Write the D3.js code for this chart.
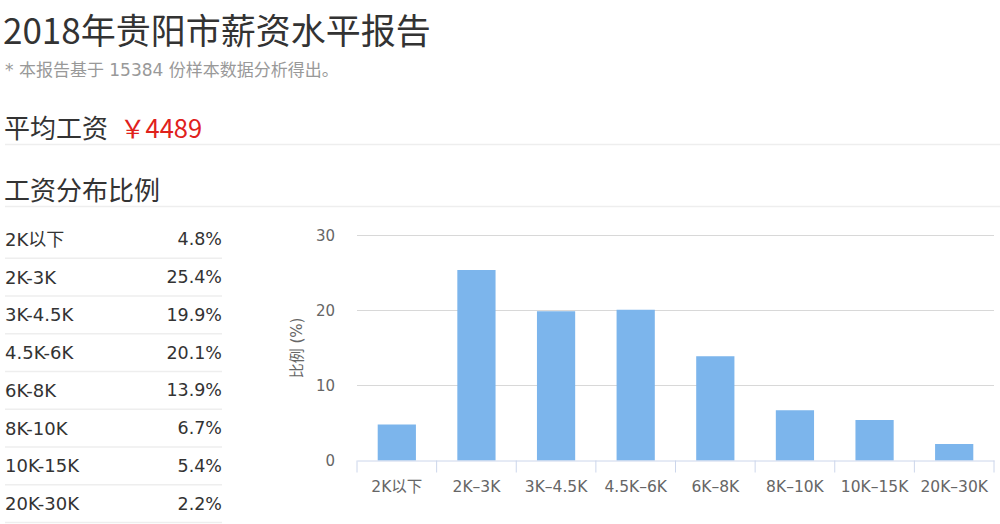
<!DOCTYPE html>
<html>
<head>
<meta charset="utf-8">
<script src="https://cdn.jsdelivr.net/npm/d3@7"></script>
<style>
  html, body { margin: 0; padding: 0; background: #fff; }
  svg { display: block; font-family: "Noto Sans CJK SC", "Noto Sans", sans-serif; }
</style>
</head>
<body>
<svg id="chart"></svg>
<script>
// 薪资区间与比例(%)
const categories = ["2K以下", "2K-3K", "3K-4.5K", "4.5K-6K", "6K-8K", "8K-10K", "10K-15K", "20K-30K"];
const ratios = [4.8, 25.4, 19.9, 20.1, 13.9, 6.7, 5.4, 2.2];
const yTicks = [0, 10, 20, 30];

const title = "2018年贵阳市薪资水平报告";
const note = "* 本报告基于 15384 份样本数据分析得出。";
const avgLabel = "平均工资";
const avgValue = "￥4489";
const distTitle = "工资分布比例";
const yTitle = "比例 (%)";

const W = 1000, H = 524;
const latinFont = "\"DejaVu Sans\", \"Noto Sans CJK SC\", sans-serif";
const svg = d3.select("#chart").attr("width", W).attr("height", H);

// header
svg.append("text").attr("x", 3).attr("y", 28).attr("dominant-baseline", "central")
    .attr("font-size", 35).attr("fill", "#333").text(title);
svg.append("text").attr("x", 5).attr("y", 69.5).attr("dominant-baseline", "central")
    .attr("font-size", 17).attr("fill", "#999").attr("font-family", latinFont).text(note);

svg.append("text").attr("x", 4).attr("y", 126).attr("dominant-baseline", "central")
    .attr("font-size", 26).attr("fill", "#333").text(avgLabel);
svg.append("text").attr("x", 120).attr("y", 126).attr("dominant-baseline", "central")
    .attr("font-size", 25.5).attr("fill", "#e0211c").text(avgValue);
svg.append("line").attr("x1", 5).attr("x2", W).attr("y1", 144.5).attr("y2", 144.5)
    .attr("stroke", "#eee").attr("stroke-width", 1.5);

svg.append("text").attr("x", 4).attr("y", 188).attr("dominant-baseline", "central")
    .attr("font-size", 26).attr("fill", "#333").text(distTitle);
svg.append("line").attr("x1", 5).attr("x2", W).attr("y1", 206.5).attr("y2", 206.5)
    .attr("stroke", "#eee").attr("stroke-width", 1.5);

// left table
const rowY = d3.scaleBand().domain(categories).range([220.5, 522.5]);
const rows = svg.append("g").selectAll("g").data(categories).join("g")
    .attr("transform", d => `translate(0, ${rowY(d)})`);
rows.append("text").attr("x", 5).attr("y", rowY.bandwidth() / 2)
    .attr("dominant-baseline", "central").attr("font-size", 18).attr("fill", "#333")
    .attr("font-family", latinFont)
    .text(d => d);
rows.append("text").attr("x", 222).attr("y", rowY.bandwidth() / 2)
    .attr("text-anchor", "end").attr("dominant-baseline", "central")
    .attr("font-size", 17.5).attr("fill", "#333").attr("font-family", latinFont)
    .text((d, i) => ratios[i].toFixed(1) + "%");
rows.append("line").attr("x1", 5).attr("x2", 222)
    .attr("y1", rowY.bandwidth()).attr("y2", rowY.bandwidth())
    .attr("stroke", "#eee").attr("stroke-width", 1.5);

// bar chart
const x = d3.scaleBand().domain(categories).range([357, 994]);
const y = d3.scaleLinear().domain([0, 30]).range([460.5, 235.5]);

// grid lines
svg.append("g").selectAll("line").data(yTicks.filter(t => t > 0)).join("line")
    .attr("x1", 357).attr("x2", 994)
    .attr("y1", d => y(d)).attr("y2", d => y(d))
    .attr("stroke", "#d8d8d8").attr("stroke-width", 1);

// y axis labels
const yAxis = g => g.attr("transform", "translate(357, 0)")
    .call(d3.axisLeft(y).tickValues(yTicks).tickSize(0).tickPadding(22))
    .call(g => g.select(".domain").remove())
    .call(g => g.selectAll("text").attr("font-size", 15).attr("fill", "#666")
        .attr("font-family", latinFont));
svg.append("g").call(yAxis);

svg.append("text")
    .attr("transform", "translate(297, 348) rotate(-90)")
    .attr("text-anchor", "middle").attr("dominant-baseline", "central")
    .attr("font-size", 15).attr("fill", "#666").attr("font-family", latinFont)
    .text(yTitle);

// bars
svg.append("g").selectAll("rect").data(categories).join("rect")
    .attr("x", d => x(d) + x.bandwidth() * 0.26)
    .attr("width", x.bandwidth() * 0.48)
    .attr("y", (d, i) => y(ratios[i]))
    .attr("height", (d, i) => y(0) - y(ratios[i]))
    .attr("fill", "#7cb5ec");

// x axis
const xAxis = g => g.attr("transform", `translate(0, ${y(0)})`)
    .call(d3.axisBottom(x).tickSize(0).tickPadding(20).tickFormat(d => d.replace("-", "–")))
    .call(g => g.select(".domain").attr("stroke", "#ccd6eb"))
    .call(g => g.selectAll("text").attr("font-size", 15.5).attr("fill", "#666")
        .attr("font-family", latinFont));
svg.append("g").call(xAxis);

// band boundary ticks
const bounds = categories.map(d => x(d)).concat([x.range()[1]]);
svg.append("g").selectAll("line").data(bounds).join("line")
    .attr("x1", d => d).attr("x2", d => d)
    .attr("y1", y(0)).attr("y2", y(0) + 12)
    .attr("stroke", "#ccd6eb").attr("stroke-width", 1);
</script>
</body>
</html>
